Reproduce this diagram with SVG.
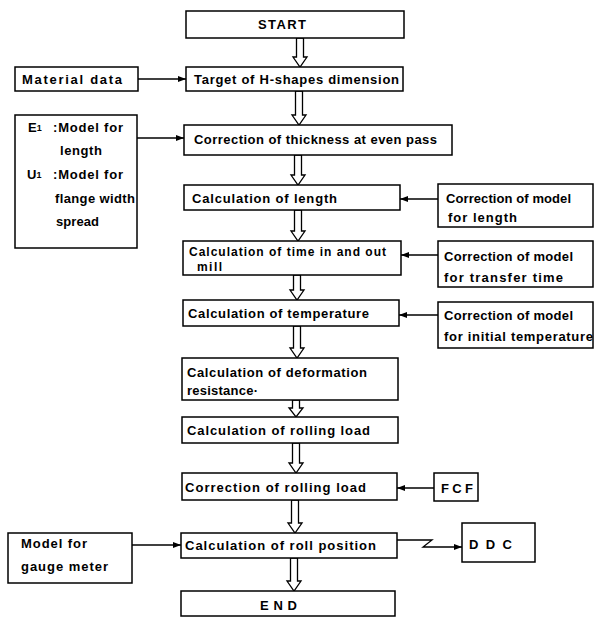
<svg xmlns="http://www.w3.org/2000/svg" width="594" height="617" viewBox="0 0 594 617">
<style>
.box{fill:#fff;stroke:#000;stroke-width:1.5}
.t{font-family:"Liberation Sans",Arial,sans-serif;font-weight:bold;font-size:13px;fill:#000}
.s{font-size:12px}
.con{fill:none;stroke:#000;stroke-width:1.3}
.ha{fill:#fff;stroke:#000;stroke-width:1.3;stroke-linejoin:miter}
</style>
<defs>
<marker id="ah" markerUnits="userSpaceOnUse" markerWidth="8" markerHeight="6" refX="8" refY="3" orient="auto">
<path d="M0,0 L8,3 L0,6 z" fill="#000"/>
</marker>
</defs>
<rect width="594" height="617" fill="#fff"/>

<g id="connectors">
<polygon class="ha" points="296.5,38 296.5,57 293,57 300,67 307,57 303.5,57 303.5,38"/>
<polygon class="ha" points="295.5,91 295.5,115 292,115 299,125 306,115 302.5,115 302.5,91"/>
<polygon class="ha" points="294.5,155 294.5,175 291,175 298,185 305,175 301.5,175 301.5,155"/>
<polygon class="ha" points="294.5,210 294.5,231 291,231 298,241 305,231 301.5,231 301.5,210"/>
<polygon class="ha" points="293.5,275 293.5,290 290,290 297,300 304,290 300.5,290 300.5,275"/>
<polygon class="ha" points="293.5,326 293.5,348 290,348 297,358 304,348 300.5,348 300.5,326"/>
<polygon class="ha" points="292.5,400 292.5,408 289,408 296,417 303,408 299.5,408 299.5,400"/>
<polygon class="ha" points="292.5,443 292.5,463 289,463 296,473 303,463 299.5,463 299.5,443"/>
<polygon class="ha" points="291.5,500 291.5,523 288,523 295,533 302,523 298.5,523 298.5,500"/>
<polygon class="ha" points="290.5,558 290.5,581 287,581 294,591 301,581 297.5,581 297.5,558"/>
<line class="con" x1="138" y1="79" x2="186" y2="79" marker-end="url(#ah)"/>
<line class="con" x1="137" y1="138" x2="184" y2="138" marker-end="url(#ah)"/>
<line class="con" x1="438" y1="199" x2="400" y2="199" marker-end="url(#ah)"/>
<line class="con" x1="438" y1="255" x2="401" y2="255" marker-end="url(#ah)"/>
<line class="con" x1="438" y1="315" x2="399" y2="315" marker-end="url(#ah)"/>
<line class="con" x1="434" y1="488" x2="397" y2="488" marker-end="url(#ah)"/>
<line class="con" x1="132" y1="545" x2="181" y2="545" marker-end="url(#ah)"/>
<path class="con" d="M397,540 L432,540 L423,547 L462,547" marker-end="url(#ah)"/>
</g>

<g id="start"><rect class="box" x="186" y="11" width="218" height="27"/>
<text class="t" x="258" y="29" textLength="48" lengthAdjust="spacing">START</text></g>

<g id="target"><rect class="box" x="186" y="67" width="217" height="24"/>
<text class="t" x="194" y="84" textLength="205" lengthAdjust="spacing">Target of H-shapes dimension</text></g>

<g id="material"><rect class="box" x="15" y="67" width="123" height="24"/>
<text class="t" x="22" y="84" textLength="100" lengthAdjust="spacing">Material data</text></g>

<g id="models"><rect class="box" x="15" y="115" width="122" height="133"/>
<text class="t" x="28" y="132">E<tspan font-size="9" dy="-1">1</tspan></text>
<text class="t" x="53" y="132" textLength="70" lengthAdjust="spacing">:Model for</text>
<text class="t" x="60" y="155" textLength="42" lengthAdjust="spacing">length</text>
<text class="t" x="27" y="179">U<tspan font-size="9" dy="-1">1</tspan></text>
<text class="t" x="53" y="179" textLength="70" lengthAdjust="spacing">:Model for</text>
<text class="t" x="55" y="203" textLength="80" lengthAdjust="spacing">flange width</text>
<text class="t" x="56" y="226" textLength="43" lengthAdjust="spacing">spread</text></g>

<g id="thickness"><rect class="box" x="184" y="125" width="268" height="30"/>
<text class="t" x="194" y="144" textLength="243" lengthAdjust="spacing">Correction of thickness at even pass</text></g>

<g id="calc-length"><rect class="box" x="184" y="185" width="216" height="25"/>
<text class="t" x="192" y="203" textLength="145" lengthAdjust="spacing">Calculation of length</text></g>

<g id="corr-length"><rect class="box" x="438" y="184" width="155" height="43"/>
<text class="t" x="446" y="203" textLength="125" lengthAdjust="spacing">Correction of model</text>
<text class="t" x="448" y="222" textLength="69" lengthAdjust="spacing">for  length</text></g>

<g id="calc-time"><rect class="box" x="183" y="241" width="218" height="34"/>
<text class="t s" x="189" y="256" textLength="197" lengthAdjust="spacing">Calculation of time in and out</text>
<text class="t s" x="197" y="271" textLength="25" lengthAdjust="spacing">mill</text></g>

<g id="corr-transfer"><rect class="box" x="438" y="241" width="155" height="46"/>
<text class="t" x="444" y="261" textLength="129" lengthAdjust="spacing">Correction of model</text>
<text class="t" x="444" y="282" textLength="119" lengthAdjust="spacing">for transfer time</text></g>

<g id="calc-temp"><rect class="box" x="183" y="300" width="216" height="26"/>
<text class="t" x="188" y="318" textLength="181" lengthAdjust="spacing">Calculation of temperature</text></g>

<g id="corr-initial"><rect class="box" x="438" y="302" width="155" height="46"/>
<text class="t" x="444" y="320" textLength="129" lengthAdjust="spacing">Correction of model</text>
<text class="t" x="444" y="341" textLength="149" lengthAdjust="spacing">for initial temperature</text></g>

<g id="deformation"><rect class="box" x="182" y="358" width="216" height="42"/>
<text class="t" x="187" y="377" textLength="180" lengthAdjust="spacing">Calculation of deformation</text>
<text class="t" x="187" y="395" textLength="71" lengthAdjust="spacing">resistance·</text></g>

<g id="rolling-load"><rect class="box" x="182" y="417" width="216" height="26"/>
<text class="t" x="187" y="435" textLength="183" lengthAdjust="spacing">Calculation of rolling load</text></g>

<g id="corr-rolling"><rect class="box" x="182" y="473" width="215" height="27"/>
<text class="t" x="185" y="492" textLength="181" lengthAdjust="spacing">Correction of rolling load</text></g>

<g id="fcf"><rect class="box" x="434" y="473" width="44" height="28"/>
<text class="t" x="441" y="493" textLength="32" lengthAdjust="spacing">FCF</text></g>

<g id="roll-position"><rect class="box" x="181" y="533" width="216" height="25"/>
<text class="t" x="185" y="550" textLength="191" lengthAdjust="spacing">Calculation of roll position</text></g>

<g id="gauge"><rect class="box" x="8" y="533" width="124" height="50"/>
<text class="t" x="21" y="548" textLength="66" lengthAdjust="spacing">Model for</text>
<text class="t" x="21" y="571" textLength="87" lengthAdjust="spacing">gauge meter</text></g>

<g id="ddc"><rect class="box" x="462" y="523" width="73" height="39"/>
<text class="t" x="469" y="549" textLength="43" lengthAdjust="spacing">D D C</text></g>

<g id="end"><rect class="box" x="181" y="591" width="214" height="25"/>
<text class="t" x="260" y="610" textLength="37" lengthAdjust="spacing">E N D</text></g>
</svg>
